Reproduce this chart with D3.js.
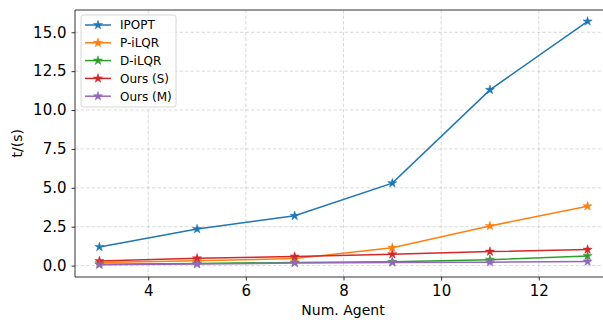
<!DOCTYPE html>
<html><head><meta charset="utf-8">
<script src="https://cdn.jsdelivr.net/npm/d3@7"></script>
<style>body{margin:0;background:#fff}svg{display:block}text{font-family:"DejaVu Sans",sans-serif}</style>
</head><body><svg id="c" width="603" height="320"></svg>
<script>
const agents = [3, 5, 7, 9, 11, 13];
const seriesNames = ["IPOPT", "P-iLQR", "D-iLQR", "Ours (S)", "Ours (M)"];
const ipopt = [1.2, 2.35, 3.2, 5.3, 11.3, 15.7];
const piLQR = [0.2, 0.32, 0.45, 1.15, 2.55, 3.82];
const diLQR = [0.08, 0.14, 0.2, 0.25, 0.38, 0.62];
const oursS = [0.3, 0.47, 0.58, 0.73, 0.9, 1.03];
const oursM = [0.06, 0.1, 0.17, 0.2, 0.22, 0.26];
const colors = ["#1f77b4", "#ff7f0e", "#2ca02c", "#d62728", "#9467bd"];
const xTicks = [4, 6, 8, 10, 12];
const yTicks = [0, 2.5, 5, 7.5, 10, 12.5, 15];
const allSeries = [ipopt, piLQR, diLQR, oursS, oursM];

const svg = d3.select("#c");
const L = 75, R = 612, T = 10, B = 277;
const x = d3.scaleLinear().domain([2.5, 13.5]).range([L, R]);
const y = d3.scaleLinear().domain([-0.7325, 16.4325]).range([B, T]);

// grid
const g = svg.append("g");
g.selectAll(".gx").data(xTicks).join("line")
  .attr("x1", d => x(d)).attr("x2", d => x(d)).attr("y1", T).attr("y2", B)
  .attr("stroke", "#b0b0b0").attr("stroke-opacity", 0.6).attr("stroke-dasharray", "3.5,2").attr("stroke-width", 0.8);
g.selectAll(".gy").data(yTicks).join("line")
  .attr("y1", d => y(d)).attr("y2", d => y(d)).attr("x1", L).attr("x2", R)
  .attr("stroke", "#b0b0b0").attr("stroke-opacity", 0.6).attr("stroke-dasharray", "3.5,2").attr("stroke-width", 0.8);

// axes
const xa = svg.append("g").attr("transform", `translate(0,${B})`)
  .call(d3.axisBottom(x).tickValues(xTicks).tickFormat(d3.format("d")).tickSize(3.5).tickPadding(5));
const ya = svg.append("g").attr("transform", `translate(${L},0)`)
  .call(d3.axisLeft(y).tickValues(yTicks).tickFormat(d3.format(".1f")).tickSize(3.5).tickPadding(5));
[xa, ya].forEach(a => {
  a.select(".domain").remove();
  a.selectAll("text").attr("font-size", 15).attr("fill", "#000").attr("font-family", "DejaVu Sans");
  a.selectAll("line").attr("stroke", "#000").attr("stroke-width", 0.8);
});
// spines
svg.append("path").attr("d", `M${R},${T}H${L}V${B}H${R}`).attr("fill", "none").attr("stroke", "#000").attr("stroke-width", 0.8);

const star = d3.symbol().type(d3.symbolStar).size(26);
const line = d3.line().x((d, i) => x(agents[i])).y(d => y(d));
allSeries.forEach((s, k) => {
  svg.append("path").datum(s).attr("d", line).attr("fill", "none")
    .attr("stroke", colors[k]).attr("stroke-width", 1.5);
  svg.selectAll(null).data(s).join("path")
    .attr("d", star).attr("transform", (d, i) => `translate(${x(agents[i])},${y(d)})`)
    .attr("fill", colors[k]).attr("stroke", colors[k]).attr("stroke-width", 0.5);
});

// labels
svg.append("text").attr("x", 343).attr("y", 315).attr("text-anchor", "middle")
  .attr("font-size", 14).text("Num. Agent");
svg.append("text").attr("transform", `translate(21.5,143.3) rotate(-90)`).attr("text-anchor", "middle")
  .attr("font-size", 14).text("t/(s)");

// legend
const lg = svg.append("g");
lg.append("rect").attr("x", 81).attr("y", 15).attr("width", 95).attr("height", 92).attr("rx", 2.5)
  .attr("fill", "#fff").attr("fill-opacity", 0.8).attr("stroke", "#ccc").attr("stroke-width", 0.8);
seriesNames.forEach((n, k) => {
  const yy = 25 + k * 17.8;
  lg.append("line").attr("x1", 85).attr("x2", 111).attr("y1", yy).attr("y2", yy)
    .attr("stroke", colors[k]).attr("stroke-width", 1.5);
  lg.append("path").attr("d", star).attr("transform", `translate(98,${yy})`)
    .attr("fill", colors[k]).attr("stroke", colors[k]).attr("stroke-width", 0.5);
  lg.append("text").attr("x", 120).attr("y", yy + 4.3).attr("font-size", 12).text(n);
});
</script></body></html>
